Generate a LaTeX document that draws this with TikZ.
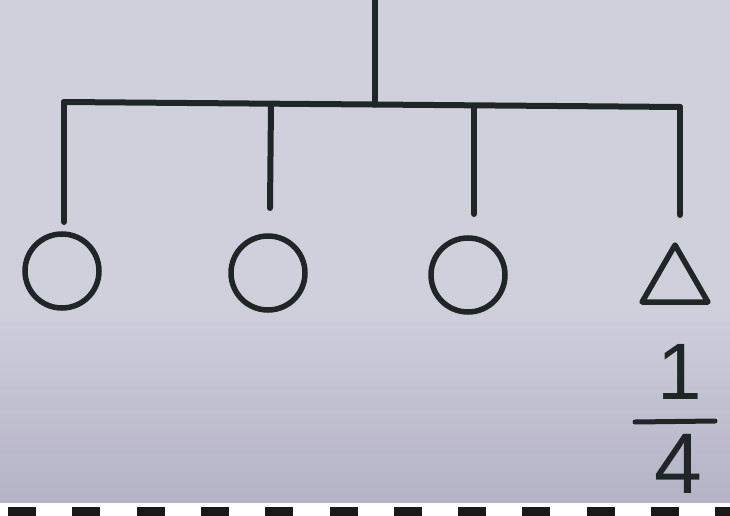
\documentclass[tikz,border=0pt]{standalone}
\usepackage{fontspec}
\setmainfont{Liberation Sans}
\usetikzlibrary{shapes.geometric}
\definecolor{paper}{RGB}{204,204,218}
\definecolor{paperdark}{RGB}{180,178,198}
\definecolor{ink}{RGB}{30,38,38}
\tikzset{
  wire/.style={draw=ink, line width=6pt, line cap=round, line join=round},
  female/.style={circle, draw=ink, line width=5.5pt, minimum size=74pt, inner sep=0pt},
  male/.style={regular polygon, regular polygon sides=3, draw=ink, line width=5.5pt, minimum size=76pt, inner sep=0pt, line join=round},
  digit/.style={text=ink, inner sep=0pt, font=\fontsize{80}{80}\selectfont},
  tick/.style={fill=black!90, draw=none}
}
\begin{document}
\begin{tikzpicture}[x=1pt,y=-1pt]
\useasboundingbox (0,0) rectangle (730,516);
\fill[paper!92!white] (0,0) rectangle (730,300);
\shade[top color=paper!92!white, bottom color=paperdark] (0,300) rectangle (730,504);
% bottom strip
\fill[white] (0,503) rectangle (730,516);
\foreach \i in {0,...,11} {
  \fill[tick] ({8+64.3*\i},507) rectangle ({36+64.3*\i},516);
}
% coordinates
\coordinate (top) at (375,0);
\coordinate (mid) at (375,104.5);
\coordinate (bl) at (64,102);
\coordinate (br) at (680,107);
\coordinate (j2) at (271,104);
\coordinate (j3) at (474,106);
\coordinate (e1) at (64,222);
\coordinate (e2) at (270,208);
\coordinate (e3) at (474,214);
\coordinate (e4) at (680,215);
% nodes
\node[female] (c1) at (62,271) {};
\node[female] (c2) at (268,273) {};
\node[female] (c3) at (468,275) {};
\node[male] (t4) at (675,283) {};
\node[digit] (num) at (680,372) {1};
\node[digit, font=\fontsize{86}{86}\selectfont] (den) at (678,464) {4};
\coordinate (fl) at (635,422);
\coordinate (fr) at (715,421);
% connectors
\draw[wire] (top) -- (mid);
\draw[wire] (bl) -- (br);
\draw[wire] (bl) -- (e1);
\draw[wire] (j2) -- (e2);
\draw[wire] (j3) -- (e3);
\draw[wire] (br) -- (e4);
\draw[wire, line width=5pt] (fl) -- (fr);
\end{tikzpicture}
\end{document}
